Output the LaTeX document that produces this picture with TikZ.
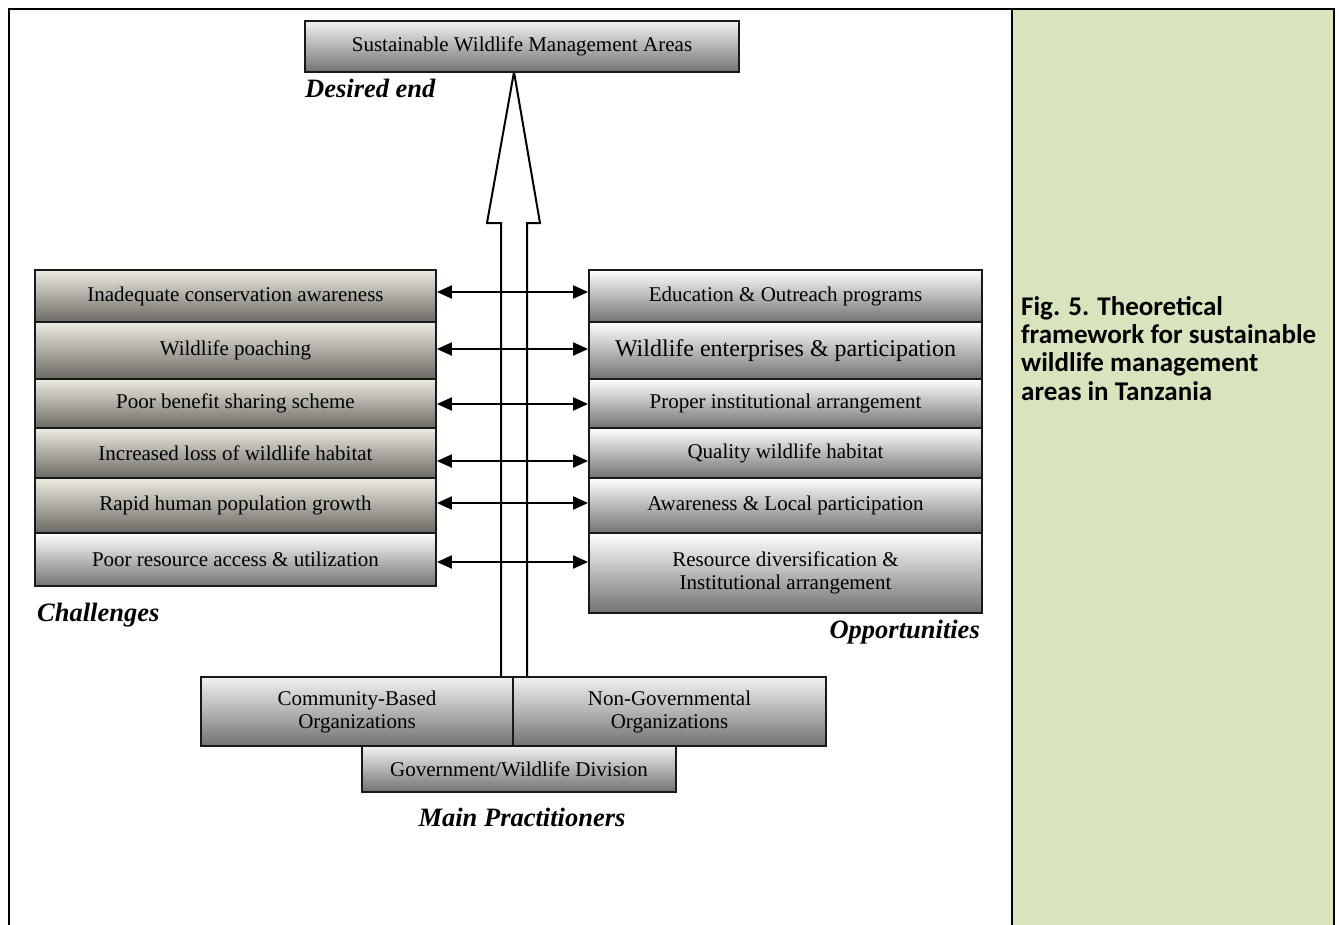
\documentclass[tikz,border=0pt]{standalone}
\usepackage{fontspec}
\setmainfont{Liberation Serif}
\newfontfamily\capfont{Carlito}
\usetikzlibrary{arrows.meta}
\definecolor{capgreen}{HTML}{D7E4BD}
\definecolor{beigetop}{HTML}{EEECE1}
\definecolor{beigebot}{HTML}{6A6862}
\definecolor{graytop}{HTML}{F2F2F2}
\definecolor{graybot}{HTML}{727272}
\begin{document}
\begin{tikzpicture}[x=1pt,y=-1pt,
  boxbase/.style={draw=black!90, line width=1.8pt, inner sep=0pt, align=center,
    font=\fontsize{21}{23}\selectfont},
  graybox/.style={boxbase, top color=graytop, bottom color=graybot},
  whitebox/.style={boxbase, top color=white, bottom color=graybot},
  beigebox/.style={boxbase, top color=beigetop, bottom color=beigebot},
  leftbox/.style={minimum width=401pt},
  rightbox/.style={minimum width=393pt},
  label/.style={font=\fontsize{26.5}{28}\selectfont\bfseries\itshape, inner sep=0pt},
  biarrow/.style={line width=2pt, {Triangle[length=15pt,width=13pt]}-{Triangle[length=15pt,width=13pt]}},
  hollow/.style={line width=2pt, fill=white}
]
\useasboundingbox (0,0) rectangle (1339,924);
% frame and caption panel
\fill[capgreen] (1012,9) rectangle (1334,930);
\draw[line width=2.6pt] (9,930) -- (9,9) -- (1334,9) -- (1334,930);
\draw[line width=2.6pt] (1012,9) -- (1012,930);
\node[anchor=north west, inner sep=0pt, align=left,
  font=\capfont\bfseries\fontsize{27}{28.3}\selectfont] (cap) at (1021,296)
  {Fig. 5. Theoretical\\ framework for sustainable\\ wildlife management\\ areas in Tanzania};

% hollow arrow
\draw[hollow] (514,72) -- (540,223) -- (527,223) -- (527,677) -- (501,677) -- (501,223) -- (487,223) -- cycle;

% top box
\node[graybox, minimum width=434pt, minimum height=51pt] (top) at (522,46.5) {Sustainable Wildlife Management Areas};
\node[label, anchor=base west] (desired) at (305,97) {Desired end};

% left boxes
\node[beigebox, leftbox, minimum height=52pt] (L1) at (235.5,296) {Inadequate conservation awareness};
\node[beigebox, leftbox, minimum height=57pt] (L2) at (235.5,350.5) {Wildlife poaching};
\node[beigebox, leftbox, minimum height=49pt] (L3) at (235.5,403.5) {Poor benefit sharing scheme};
\node[beigebox, leftbox, minimum height=50pt] (L4) at (235.5,453) {Increased loss of wildlife habitat};
\node[beigebox, leftbox, minimum height=55pt] (L5) at (235.5,505.5) {Rapid human population growth};
\node[whitebox, leftbox, minimum height=53pt] (L6) at (235.5,559.5) {Poor resource access \& utilization};

% right boxes
\node[whitebox, rightbox, minimum height=52pt] (R1) at (785.5,296) {Education \& Outreach programs};
\node[whitebox, rightbox, minimum height=57pt, font=\fontsize{24}{26}\selectfont] (R2) at (785.5,350.5) {Wildlife enterprises \& participation};
\node[whitebox, rightbox, minimum height=49pt] (R3) at (785.5,403.5) {Proper institutional arrangement};
\node[whitebox, rightbox, minimum height=50pt] (R4) at (785.5,453) {Quality wildlife habitat};
\node[whitebox, rightbox, minimum height=55pt] (R5) at (785.5,505.5) {Awareness \& Local participation};
\node[whitebox, rightbox, minimum height=80pt] (R6) at (785.5,573) {Resource diversification \&\\ Institutional arrangement};

\node[label, anchor=base west] (chal) at (37,621) {Challenges};
\node[label, anchor=base east] (opp) at (980,638) {Opportunities};

% two-way arrows
\draw[biarrow] (L1.east |- 0,292) -- (R1.west |- 0,292);
\draw[biarrow] (L2.east |- 0,349) -- (R2.west |- 0,349);
\draw[biarrow] (L3.east |- 0,404) -- (R3.west |- 0,404);
\draw[biarrow] (L4.east |- 0,461) -- (R4.west |- 0,461);
\draw[biarrow] (L5.east |- 0,503) -- (R5.west |- 0,503);
\draw[biarrow] (L6.east |- 0,562) -- (R6.west |- 0,562);

% practitioners
\node[graybox, minimum width=312pt, minimum height=69pt] (cbo) at (357,711.5) {Community-Based\\ Organizations};
\node[graybox, minimum width=313pt, minimum height=69pt] (ngo) at (669.5,711.5) {Non-Governmental\\ Organizations};
\node[graybox, minimum width=314pt, minimum height=46pt] (gov) at (519,769) {Government/Wildlife Division};
\node[label, anchor=base] (main) at (522,826) {Main Practitioners};
\end{tikzpicture}
\end{document}
